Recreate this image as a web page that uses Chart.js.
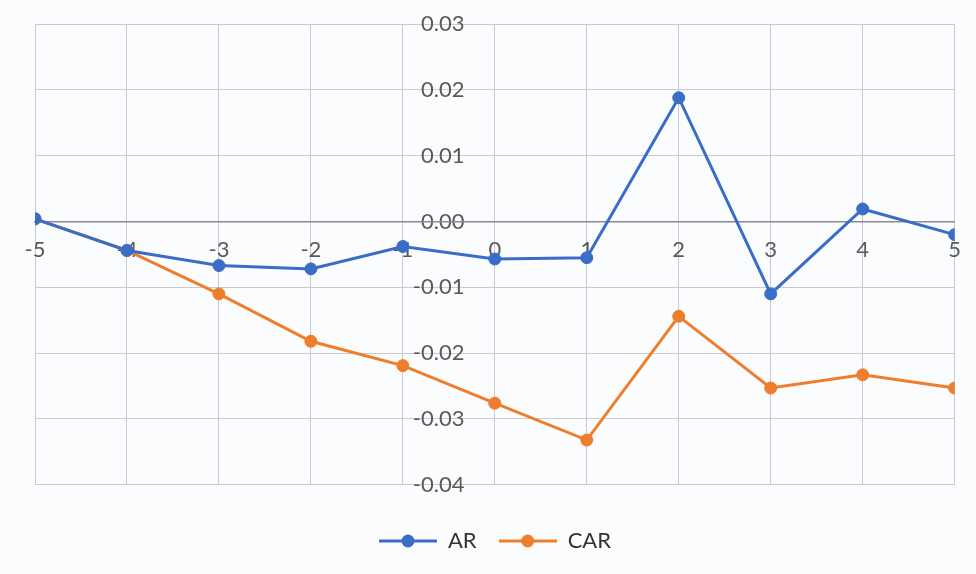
<!DOCTYPE html>
<html>
<head>
<meta charset="utf-8">
<script src="https://cdn.jsdelivr.net/npm/chart.js@4"></script>
<style>
  html, body { margin: 0; padding: 0; background: #fbfcfe; }
  canvas { display: block; }
</style>
</head>
<body>
<canvas id="event-chart" width="976" height="574"></canvas>
<script>
// event window days and the two series
const days = [-5, -4, -3, -2, -1, 0, 1, 2, 3, 4, 5];
const ar = [0.0004, -0.0044, -0.0067, -0.0072, -0.0038, -0.0057, -0.0055, 0.0188, -0.0110, 0.0019, -0.0020];
const car = [0.0004, -0.0044, -0.0110, -0.0182, -0.0219, -0.0276, -0.0332, -0.0144, -0.0253, -0.0233, -0.0253];

const blue = '#3a6ec6';
const orange = '#ee7d2c';

function toPoints(values) {
  return days.map((d, i) => ({ x: d, y: values[i] }));
}

// little "line with dot" picture for the legend
function legendMark(color) {
  let c = document.createElement('canvas');
  c.width = 58;
  c.height = 14;
  let g = c.getContext('2d');
  g.strokeStyle = color;
  g.lineWidth = 3;
  g.beginPath();
  g.moveTo(0, 7);
  g.lineTo(58, 7);
  g.stroke();
  g.fillStyle = color;
  g.beginPath();
  g.arc(29, 7, 6.5, 0, Math.PI * 2);
  g.fill();
  return c;
}

displayChart();

function displayChart() {
  let ctx = document.getElementById('event-chart').getContext('2d');
  let marks = [legendMark(blue), legendMark(orange)];

  new Chart(ctx, {
    type: 'line',
    data: {
      datasets: [{
        label: 'AR',
        data: toPoints(ar),
        borderColor: blue,
        backgroundColor: blue,
        borderWidth: 3,
        pointRadius: 6,
        pointBorderWidth: 1,
        lineTension: 0,
      }, {
        label: 'CAR',
        data: toPoints(car),
        borderColor: orange,
        backgroundColor: orange,
        borderWidth: 3,
        pointRadius: 6,
        pointBorderWidth: 1,
        lineTension: 0,
      }]
    },
    options: {
      responsive: false,
      animation: false,
      layout: {
        padding: { left: 35, right: 21, top: 24, bottom: 12 }
      },
      scales: {
        x: {
          type: 'linear',
          position: { y: 0 },
          min: -5,
          max: 5,
          grid: { color: '#c9cad6', drawTicks: false },
          border: { color: '#8a8a92', width: 1.5 },
          ticks: {
            stepSize: 1,
            padding: 15,
            z: -1,
            color: '#595959',
            font: { family: 'Lato', size: 22 }
          }
        },
        y: {
          // labels sit a little left of the x = 0 gridline
          position: { x: -0.33 },
          min: -0.04,
          max: 0.03,
          grid: { color: '#c9cad6', drawTicks: false },
          border: { display: false },
          ticks: {
            stepSize: 0.01,
            z: -1,
            color: '#595959',
            font: { family: 'Lato', size: 22 },
            callback: v => v.toFixed(2)
          }
        }
      },
      plugins: {
        tooltip: { enabled: false },
        legend: {
          position: 'bottom',
          title: { display: true, text: '', font: { size: 1 }, padding: { top: 0, bottom: 22 } },
          labels: {
            usePointStyle: true,
            pointStyleWidth: 58,
            padding: 22,
            color: '#333',
            font: { family: 'Lato', size: 22 },
            generateLabels: function(chart) {
              let items = Chart.defaults.plugins.legend.labels.generateLabels(chart);
              items.forEach((it, i) => { it.pointStyle = marks[i]; });
              return items;
            }
          }
        }
      }
    }
  });
}
</script>
</body>
</html>
